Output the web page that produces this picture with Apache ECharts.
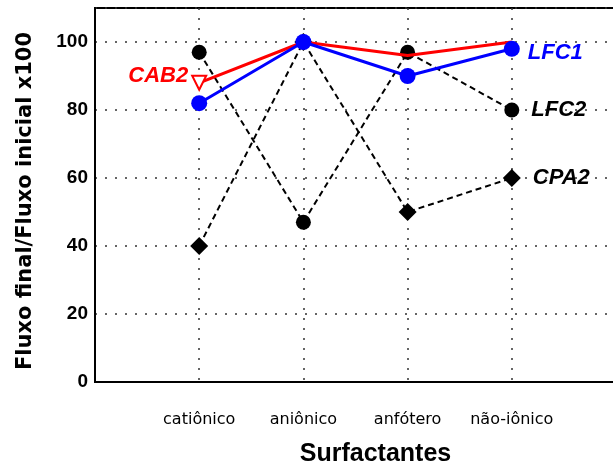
<!DOCTYPE html>
<html>
<head>
<meta charset="utf-8">
<script src="https://cdn.jsdelivr.net/npm/echarts@6/dist/echarts.min.js"></script>
<style>
  html, body { margin: 0; padding: 0; background: #fff; }
  #chart { width: 613px; height: 475px; }
</style>
</head>
<body>
<div id="chart"></div>
<script>
// categorias (eixo x) e séries
var categories = ['catiônico', 'aniônico', 'anfótero', 'não-iônico'];
var yTicks = [0, 20, 40, 60, 80, 100];
var cab2 = [88, 100, 96, 100];
var lfc1 = [82, 100, 90, 98];
var lfc2 = [97, 47, 97, 80];
var cpa2 = [40, 100, 50, 60];

var myChart = echarts.init(document.getElementById('chart'));

// pares [posição, valor] para o eixo x numérico
function toPoints(values) {
  var pts = [];
  for (var i = 0; i < values.length; i++) {
    pts.push([i + 1, values[i]]);
  }
  return pts;
}

// rótulo com o nome da série só em um ponto
function withLabel(values, idx, labelOpt, hideOthers) {
  var pts = toPoints(values);
  return pts.map(function (p, i) {
    if (i === idx) {
      return { value: p, label: labelOpt };
    }
    if (hideOthers) {
      return { value: p, symbol: 'none' };
    }
    return p;
  });
}

var labelFont = {
  show: true,
  fontFamily: 'Liberation Sans',
  fontWeight: 'bold',
  fontStyle: 'italic',
  fontSize: 22
};

var option = {
  animation: false,
  backgroundColor: '#fff',
  grid: {
    left: 95,
    top: 8,
    right: -3,
    bottom: 93,
    outerBoundsMode: 'none',
    show: true,
    borderColor: '#000',
    borderWidth: 2,
    backgroundColor: 'transparent'
  },
  xAxis: {
    type: 'value',
    min: 0,
    max: 5,
    interval: 1,
    name: 'Surfactantes',
    nameLocation: 'middle',
    nameGap: 60,
    nameTextStyle: {
      fontFamily: 'Liberation Sans',
      fontWeight: 'bold',
      fontSize: 25,
      color: '#000',
      padding: [0, 0, 0, 40]
    },
    axisLine: { lineStyle: { color: '#000', width: 2 } },
    axisTick: { show: false },
    axisLabel: {
      margin: 30,
      fontFamily: 'DejaVu Sans',
      fontSize: 16,
      color: '#000',
      formatter: function (v) {
        return categories[v - 1] || '';
      }
    },
    splitLine: {
      show: true,
      lineStyle: { color: '#333', width: 1.5, type: [2, 8] }
    }
  },
  yAxis: {
    type: 'value',
    min: 0,
    max: 110,
    interval: 20,
    name: 'Fluxo final/Fluxo inicial x100',
    nameLocation: 'middle',
    nameGap: 59,
    nameTextStyle: {
      fontFamily: 'DejaVu Sans',
      fontWeight: 'bold',
      fontSize: 21,
      color: '#000',
      padding: [0, 12, 0, 0]
    },
    axisLine: { show: true, lineStyle: { color: '#000', width: 2 } },
    axisTick: { show: false },
    axisLabel: {
      margin: 7,
      fontFamily: 'Liberation Sans',
      fontWeight: 'bold',
      fontSize: 19,
      color: '#000',
      formatter: function (v) {
        return yTicks.indexOf(v) >= 0 ? String(v) : '';
      }
    },
    splitLine: {
      show: true,
      lineStyle: { color: '#333', width: 1.5, type: [2, 8] }
    }
  },
  series: [
    {
      name: 'LFC2',
      type: 'line',
      symbol: 'circle',
      symbolSize: 15,
      itemStyle: { color: '#000' },
      lineStyle: { color: '#000', width: 2, type: [6, 4] },
      data: withLabel(lfc2, 3, echarts.util.extend({
        position: 'right', distance: 12, color: '#000', formatter: 'LFC2'
      }, labelFont)),
      z: 2
    },
    {
      name: 'CPA2',
      type: 'line',
      symbol: 'diamond',
      symbolSize: [18, 18],
      itemStyle: { color: '#000' },
      lineStyle: { color: '#000', width: 2, type: [6, 4] },
      data: withLabel(cpa2, 3, echarts.util.extend({
        position: 'right', distance: 12, color: '#000', formatter: 'CPA2'
      }, labelFont)),
      z: 2
    },
    {
      name: 'CAB2',
      type: 'line',
      symbol: 'emptyTriangle',
      symbolRotate: 180,
      symbolSize: 14,
      itemStyle: { color: '#ff0000', borderWidth: 2 },
      lineStyle: { color: '#ff0000', width: 3 },
      data: withLabel(cab2, 0, echarts.util.extend({
        position: 'left', distance: 3, offset: [0, -7], color: '#ff0000', formatter: 'CAB2'
      }, labelFont), true),
      z: 3
    },
    {
      name: 'LFC1',
      type: 'line',
      symbol: 'circle',
      symbolSize: 16,
      itemStyle: { color: '#0000ff' },
      lineStyle: { color: '#0000ff', width: 3 },
      data: withLabel(lfc1, 3, echarts.util.extend({
        position: 'right', distance: 8, offset: [0, 4], color: '#0000ff', formatter: 'LFC1'
      }, labelFont)),
      z: 4
    }
  ]
};

myChart.setOption(option);
</script>
</body>
</html>
